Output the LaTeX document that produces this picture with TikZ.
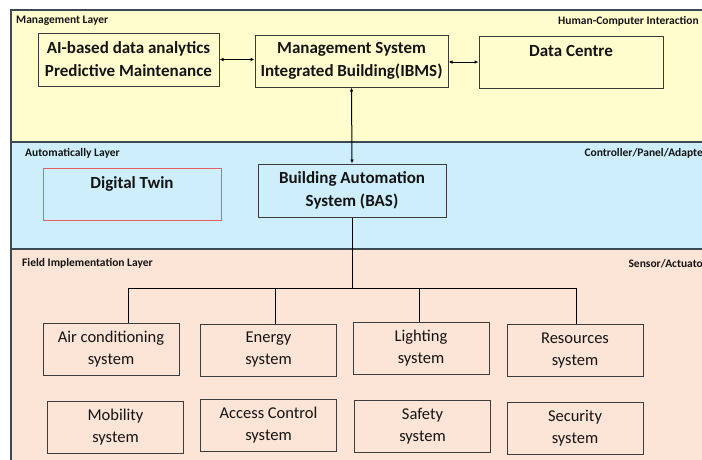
\documentclass[tikz,border=0pt]{standalone}
\usepackage{fontspec}
\setmainfont{Carlito}
\usetikzlibrary{arrows.meta}
\definecolor{mgmt}{RGB}{255,252,205}
\definecolor{auto}{RGB}{205,238,250}
\definecolor{field}{RGB}{252,228,214}
\definecolor{lyrline}{RGB}{60,72,82}
\definecolor{boxline}{RGB}{60,60,60}
\definecolor{twinred}{RGB}{232,96,100}
\definecolor{txt}{RGB}{20,20,20}
\tikzset{
  layer/.style={draw=lyrline, line width=1.2pt},
  lyrlabel/.style={font=\fontsize{11.5}{13}\selectfont\bfseries, text=txt, inner sep=0pt},
  titlebox/.style={draw=boxline, line width=1pt, align=center, text=txt,
    font=\fontsize{17}{23}\selectfont\bfseries, inner sep=0pt},
  sysbox/.style={draw=boxline, line width=1pt, align=center, text=txt,
    minimum width=136pt, minimum height=52pt, inner sep=0pt,
    font=\fontsize{16.5}{22}\selectfont},
  link/.style={draw=black, line width=1pt},
  biarrow/.style={link, {Latex[length=4pt,width=3.5pt]}-{Latex[length=4pt,width=3.5pt]}}
}
\begin{document}
\begin{tikzpicture}[x=1pt,y=-1pt]
\useasboundingbox (0,0) rectangle (702,459);
\clip (0,0) rectangle (702,459);
% layers
\fill[white] (0,0) rectangle (702,459);
\draw[layer, fill=mgmt] (11,10) rectangle (712,142);
\draw[layer, fill=auto] (11,142) rectangle (712,249);
\draw[layer, fill=field] (11,249) rectangle (712,470);
% layer labels
\node[lyrlabel, anchor=west] (lm) at (16,21) {Management Layer};
\node[lyrlabel, anchor=east] (lh) at (699,21) {Human-Computer Interaction};
\node[lyrlabel, anchor=west] (la) at (25,153) {Automatically Layer};
\node[lyrlabel, anchor=east] (lc) at (703,153) {Controller/Panel/Adapte};
\node[lyrlabel, anchor=west] (lf) at (22,263) {Field Implementation Layer};
\node[lyrlabel, anchor=east] (ls) at (703,264) {Sensor/Actuato};
% management boxes
\node[titlebox, minimum width=181pt, minimum height=53pt] (ai) at (128.5,59.5)
  {AI-based data analytics\\Predictive Maintenance};
\node[titlebox, minimum width=193pt, minimum height=52pt] (ibms) at (351.5,61)
  {Management System\\Integrated Building(IBMS)};
\node[titlebox, minimum width=184pt, minimum height=52pt] (dc) at (571,62)
  {Data Centre\\\mbox{}};
% automation boxes
\node[titlebox, draw=twinred, minimum width=178pt, minimum height=52pt] (dt) at (132,194)
  {Digital Twin\\\mbox{}};
\node[titlebox, minimum width=188pt, minimum height=53pt] (bas) at (352,190.5)
  {Building Automation\\System (BAS)};
% field systems
\node[sysbox] (ac) at (111,349) {Air conditioning\\system};
\node[sysbox] (en) at (268.5,350) {Energy\\system};
\node[sysbox] (li) at (421,348) {Lighting\\system};
\node[sysbox] (re) at (575,350.5) {Resources\\system};
\node[sysbox] (mo) at (115.5,427) {Mobility\\system};
\node[sysbox] (acc) at (268.5,425) {Access Control\\system};
\node[sysbox] (sa) at (422.5,426.5) {Safety\\system};
\node[sysbox] (se) at (575,428.5) {Security\\system};
% connectors
\draw[biarrow] (ai.east) -- (ai.east -| ibms.west);
\draw[biarrow] (ibms.east |- dc.west) -- (dc.west);
\draw[biarrow] (ibms.south) -- (bas.north);
\coordinate (busL) at (128,288);
\coordinate (busR) at (576,288);
\coordinate (dEn) at (275,288);
\coordinate (dLi) at (419,288);
\draw[link] (busL) -- (busR);
\draw[link] (bas.south) -- (bas.south |- busL);
\draw[link] (busL) -- (busL |- ac.north);
\draw[link] (dEn) -- (dEn |- en.north);
\draw[link] (dLi) -- (dLi |- li.north);
\draw[link] (busR) -- (busR |- re.north);
\end{tikzpicture}
\end{document}
